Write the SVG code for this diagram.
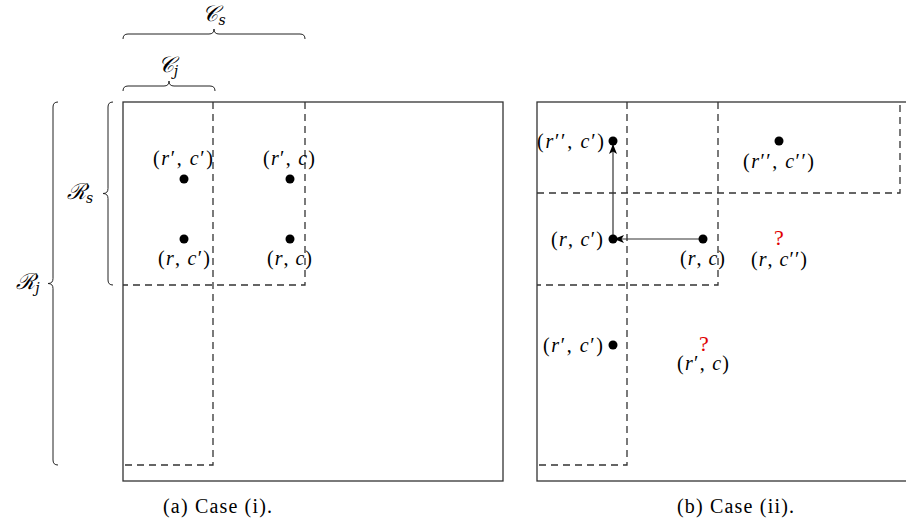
<svg xmlns="http://www.w3.org/2000/svg" width="906" height="529" viewBox="0 0 906 529">
<defs>
<style>
.frame{fill:none;stroke:#333;stroke-width:1.3}
.dash{fill:none;stroke:#333;stroke-width:1.3;stroke-dasharray:7,5}
.brace{fill:none;stroke:#222;stroke-width:1}
.dot{fill:#000}
.lbl{font-family:"Liberation Serif",serif;font-size:20px;fill:#000}
.it{font-style:italic}
.cal{font-family:"DejaVu Serif","Liberation Serif",serif;font-style:italic;font-size:22px;fill:#000}
.q{font-family:"Liberation Serif",serif;font-size:22px;fill:#e00000}
.cap{font-family:"Liberation Serif",serif;font-size:20px;fill:#000}
.arr{fill:none;stroke:#333;stroke-width:1.2}
</style>
<marker id="ah" markerWidth="10" markerHeight="8" refX="9" refY="4" orient="auto" markerUnits="userSpaceOnUse">
<path d="M0,0 L10,4 L0,8 L2.5,4 Z" fill="#000"/>
</marker>
</defs>
<rect width="906" height="529" fill="#fff"/>

<g id="panel-a">
<rect class="frame" x="123" y="102" width="380" height="379"/>
<path class="dash" d="M213,102 V465 H123"/>
<path class="dash" d="M305,102 V285 H123"/>
<path class="brace" d="M123,39 Q123,34 128,34 L209,34 Q214,34 214,29 Q214,34 219,34 L300,34 Q305,34 305,39"/>
<text class="cal" x="214" y="21" text-anchor="middle">𝒞<tspan class="it" font-size="14" dy="4">s</tspan></text>
<path class="brace" d="M123,91 Q123,86 128,86 L164,86 Q169,86 169,81 Q169,86 174,86 L210,86 Q215,86 215,91"/>
<text class="cal" x="168" y="72" text-anchor="middle">𝒞<tspan class="it" font-size="14" dy="4">j</tspan></text>
<path class="brace" d="M113,102 Q108,102 108,107 L108,188.5 Q108,193.5 103,193.5 Q108,193.5 108,198.5 L108,280 Q108,285 113,285"/>
<text class="cal" x="80" y="199" text-anchor="middle">ℛ<tspan class="it" font-size="14" dy="4">s</tspan></text>
<path class="brace" d="M58,102 Q53,102 53,107 L53,278.5 Q53,283.5 48,283.5 Q53,283.5 53,288.5 L53,460 Q53,465 58,465"/>
<text class="cal" x="28" y="289" text-anchor="middle">ℛ<tspan class="it" font-size="14" dy="4">j</tspan></text>
</g>

<g id="a-rpcp">
<circle class="dot" cx="184" cy="179" r="4.5"/>
<text class="lbl" x="153" y="165" textLength="60">(<tspan class="it">r</tspan>′, <tspan class="it">c</tspan>′)</text>
</g>
<g id="a-rpc">
<circle class="dot" cx="290" cy="179" r="4.5"/>
<text class="lbl" x="263" y="165" textLength="52">(<tspan class="it">r</tspan>′, <tspan class="it">c</tspan>)</text>
</g>
<g id="a-rcp">
<circle class="dot" cx="184" cy="239" r="4.5"/>
<text class="lbl" x="158" y="265" textLength="52">(<tspan class="it">r</tspan>, <tspan class="it">c</tspan>′)</text>
</g>
<g id="a-rc">
<circle class="dot" cx="290" cy="239" r="4.5"/>
<text class="lbl" x="267" y="265" textLength="45">(<tspan class="it">r</tspan>, <tspan class="it">c</tspan>)</text>
</g>

<g id="panel-b">
<rect class="frame" x="537" y="102" width="380" height="379"/>
<path class="dash" d="M627,102 V465 H537"/>
<path class="dash" d="M718,102 V285 H537"/>
<path class="dash" d="M537,193 H900 V102"/>
</g>

<g id="connectors">
<line class="arr" x1="703" y1="239" x2="615" y2="239" marker-end="url(#ah)"/>
<line class="arr" x1="613" y1="239" x2="613" y2="145" marker-end="url(#ah)"/>
</g>

<g id="b-rppcp">
<circle class="dot" cx="613" cy="141" r="4.5"/>
<text class="lbl" x="537" y="148" textLength="67">(<tspan class="it">r</tspan>′′, <tspan class="it">c</tspan>′)</text>
</g>
<g id="b-rcp">
<circle class="dot" cx="613" cy="239" r="4.5"/>
<text class="lbl" x="551" y="246" textLength="52">(<tspan class="it">r</tspan>, <tspan class="it">c</tspan>′)</text>
</g>
<g id="b-rc">
<circle class="dot" cx="703" cy="239" r="4.5"/>
<text class="lbl" x="680" y="265" textLength="45">(<tspan class="it">r</tspan>, <tspan class="it">c</tspan>)</text>
</g>
<g id="b-rppcpp">
<circle class="dot" cx="779" cy="141" r="4.5"/>
<text class="lbl" x="743" y="168" textLength="71">(<tspan class="it">r</tspan>′′, <tspan class="it">c</tspan>′′)</text>
</g>
<g id="b-rcpp">
<text class="q" x="779" y="245" text-anchor="middle">?</text>
<text class="lbl" x="751" y="266" textLength="56">(<tspan class="it">r</tspan>, <tspan class="it">c</tspan>′′)</text>
</g>
<g id="b-rpcp">
<circle class="dot" cx="613" cy="345" r="4.5"/>
<text class="lbl" x="543" y="352" textLength="60">(<tspan class="it">r</tspan>′, <tspan class="it">c</tspan>′)</text>
</g>
<g id="b-rpc">
<text class="q" x="704" y="351" text-anchor="middle">?</text>
<text class="lbl" x="677" y="370" textLength="52">(<tspan class="it">r</tspan>′, <tspan class="it">c</tspan>)</text>
</g>

<text class="cap" x="163" y="513" textLength="109">(a)  Case (i).</text>
<text class="cap" x="677" y="513" textLength="117">(b)  Case (ii).</text>
</svg>
